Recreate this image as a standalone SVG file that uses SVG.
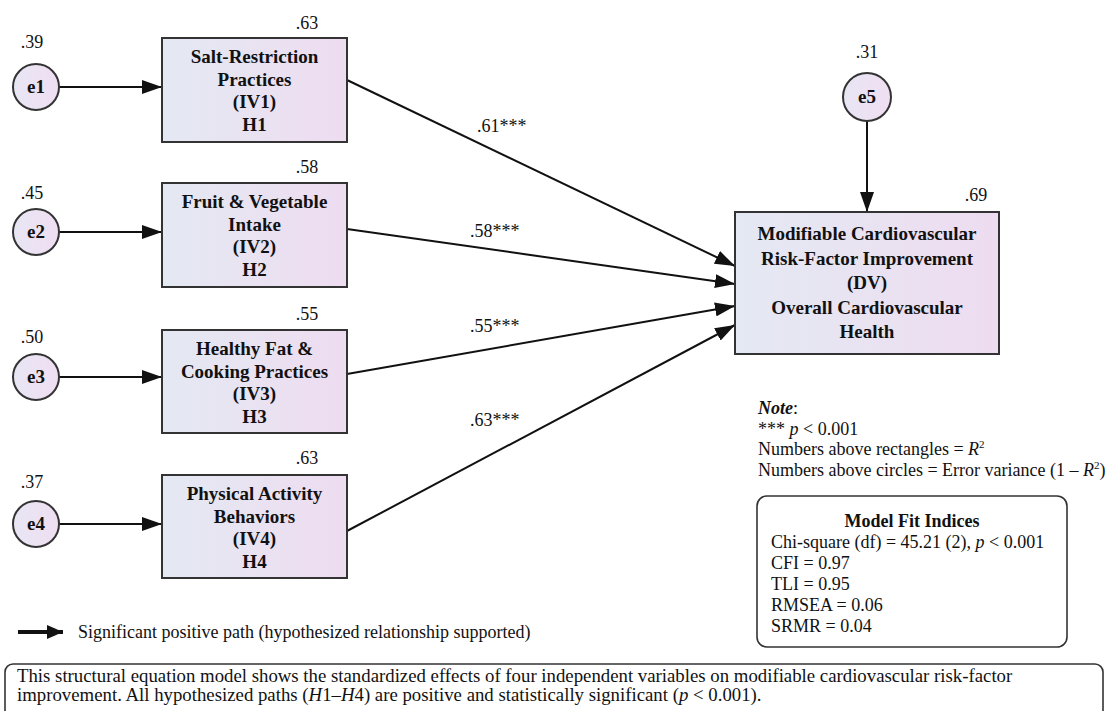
<svg xmlns="http://www.w3.org/2000/svg" width="1107" height="711" viewBox="0 0 1107 711">
<defs>
<linearGradient id="gBox" x1="0" y1="0" x2="1" y2="0">
<stop offset="0" stop-color="#e4e9f3"/>
<stop offset="1" stop-color="#eedcf0"/>
</linearGradient>
<linearGradient id="gCirc" x1="0" y1="0" x2="1" y2="0">
<stop offset="0" stop-color="#e8e6f4"/>
<stop offset="1" stop-color="#efdef1"/>
</linearGradient>
<marker id="arr" markerUnits="userSpaceOnUse" markerWidth="20" markerHeight="14" refX="20" refY="7" orient="auto">
<path d="M0,0 L20,7 L0,14 z" fill="#111"/>
</marker>
<marker id="arrL" markerUnits="userSpaceOnUse" markerWidth="16" markerHeight="14" refX="16" refY="7" orient="auto">
<path d="M0,0 L16,7 L0,14 z" fill="#111"/>
</marker>
</defs>
<style>
text{font-family:"Liberation Serif","Times New Roman",serif;fill:#111}
.num{font-size:18px}
.lab{font-size:19px;font-weight:bold;text-anchor:middle}
.box{fill:url(#gBox);stroke:#333;stroke-width:2}
.circ{fill:url(#gCirc);stroke:#333;stroke-width:2}
.con{stroke:#111;stroke-width:2;fill:none;marker-end:url(#arr)}
.txt{font-size:18px}
.cap{font-size:18.8px}
</style>
<rect width="1107" height="711" fill="#ffffff"/>

<g id="connectors">
<line class="con" x1="59" y1="87" x2="162" y2="87"/>
<line class="con" x1="59" y1="232" x2="162" y2="232"/>
<line class="con" x1="59" y1="377" x2="162" y2="377"/>
<line class="con" x1="59" y1="524" x2="162" y2="524"/>
<line class="con" x1="867" y1="121" x2="867" y2="212"/>
<line class="con" x1="347" y1="80" x2="735" y2="266"/>
<line class="con" x1="347" y1="229" x2="735" y2="284"/>
<line class="con" x1="347" y1="374" x2="735" y2="306"/>
<line class="con" x1="347" y1="531" x2="735" y2="325"/>
<text class="num" x="477" y="132">.61***</text>
<text class="num" x="470" y="237">.58***</text>
<text class="num" x="470" y="332">.55***</text>
<text class="num" x="470" y="426">.63***</text>
</g>

<g id="e1">
<circle class="circ" cx="36" cy="87" r="23"/>
<text class="lab" x="36" y="93">e1</text>
<text class="num" x="32" y="48" text-anchor="middle">.39</text>
</g>
<g id="e2">
<circle class="circ" cx="36" cy="232" r="23"/>
<text class="lab" x="36" y="238">e2</text>
<text class="num" x="32" y="199" text-anchor="middle">.45</text>
</g>
<g id="e3">
<circle class="circ" cx="36" cy="377" r="23"/>
<text class="lab" x="36" y="383">e3</text>
<text class="num" x="32" y="343" text-anchor="middle">.50</text>
</g>
<g id="e4">
<circle class="circ" cx="36" cy="524" r="23"/>
<text class="lab" x="36" y="530">e4</text>
<text class="num" x="32" y="488" text-anchor="middle">.37</text>
</g>
<g id="e5">
<circle class="circ" cx="867" cy="97" r="24"/>
<text class="lab" x="867" y="103">e5</text>
<text class="num" x="867" y="58" text-anchor="middle">.31</text>
</g>

<g id="iv1">
<rect class="box" x="162" y="38" width="185" height="104"/>
<text class="lab" x="254.5" y="63">Salt-Restriction</text>
<text class="lab" x="254.5" y="86">Practices</text>
<text class="lab" x="254.5" y="108">(IV1)</text>
<text class="lab" x="254.5" y="131">H1</text>
<text class="num" x="307" y="29" text-anchor="middle">.63</text>
</g>
<g id="iv2">
<rect class="box" x="162" y="183" width="185" height="104"/>
<text class="lab" x="254.5" y="208">Fruit &amp; Vegetable</text>
<text class="lab" x="254.5" y="231">Intake</text>
<text class="lab" x="254.5" y="253">(IV2)</text>
<text class="lab" x="254.5" y="276">H2</text>
<text class="num" x="307" y="173" text-anchor="middle">.58</text>
</g>
<g id="iv3">
<rect class="box" x="162" y="330" width="185" height="103"/>
<text class="lab" x="254.5" y="355">Healthy Fat &amp;</text>
<text class="lab" x="254.5" y="378">Cooking Practices</text>
<text class="lab" x="254.5" y="400">(IV3)</text>
<text class="lab" x="254.5" y="423">H3</text>
<text class="num" x="307" y="320" text-anchor="middle">.55</text>
</g>
<g id="iv4">
<rect class="box" x="162" y="475" width="185" height="103"/>
<text class="lab" x="254.5" y="500">Physical Activity</text>
<text class="lab" x="254.5" y="523">Behaviors</text>
<text class="lab" x="254.5" y="545">(IV4)</text>
<text class="lab" x="254.5" y="568">H4</text>
<text class="num" x="307" y="464" text-anchor="middle">.63</text>
</g>

<g id="dv">
<rect class="box" x="735" y="212" width="264" height="142"/>
<text class="lab" x="867" y="240">Modifiable Cardiovascular</text>
<text class="lab" x="867" y="264.5">Risk-Factor Improvement</text>
<text class="lab" x="867" y="289">(DV)</text>
<text class="lab" x="867" y="313.5">Overall Cardiovascular</text>
<text class="lab" x="867" y="338">Health</text>
<text class="num" x="976" y="201" text-anchor="middle">.69</text>
</g>

<g id="note">
<text class="txt" x="758" y="414"><tspan font-weight="bold" font-style="italic">Note</tspan>:</text>
<text class="txt" x="758" y="435">*** <tspan font-style="italic">p</tspan> &lt; 0.001</text>
<text class="txt" x="758" y="455">Numbers above rectangles = <tspan font-style="italic">R</tspan><tspan font-size="11" dy="-7">2</tspan></text>
<text class="txt" x="758" y="476">Numbers above circles = Error variance (1 – <tspan font-style="italic">R</tspan><tspan font-size="11" dy="-7">2</tspan><tspan dy="7">)</tspan></text>
</g>

<g id="fit">
<rect x="757" y="496" width="310" height="151" rx="10" ry="10" fill="#ffffff" stroke="#333" stroke-width="1.6"/>
<text class="txt" x="912" y="527" text-anchor="middle" font-weight="bold">Model Fit Indices</text>
<text class="txt" x="771" y="548">Chi-square (df) = 45.21 (2), <tspan font-style="italic">p</tspan> &lt; 0.001</text>
<text class="txt" x="771" y="569">CFI = 0.97</text>
<text class="txt" x="771" y="590">TLI = 0.95</text>
<text class="txt" x="771" y="611">RMSEA = 0.06</text>
<text class="txt" x="771" y="632">SRMR = 0.04</text>
</g>

<g id="legend">
<line x1="18" y1="632" x2="63" y2="632" stroke="#111" stroke-width="4" marker-end="url(#arrL)"/>
<text class="txt" x="78" y="638">Significant positive path (hypothesized relationship supported)</text>
</g>

<g id="caption">
<rect x="5" y="664" width="1098" height="70" rx="8" ry="8" fill="#ffffff" stroke="#333" stroke-width="1.6"/>
<text class="cap" x="17" y="682">This structural equation model shows the standardized effects of four independent variables on modifiable cardiovascular risk-factor</text>
<text class="cap" x="17" y="701">improvement. All hypothesized paths (<tspan font-style="italic">H</tspan>1–<tspan font-style="italic">H</tspan>4) are positive and statistically significant (<tspan font-style="italic">p</tspan> &lt; 0.001).</text>
</g>
</svg>
